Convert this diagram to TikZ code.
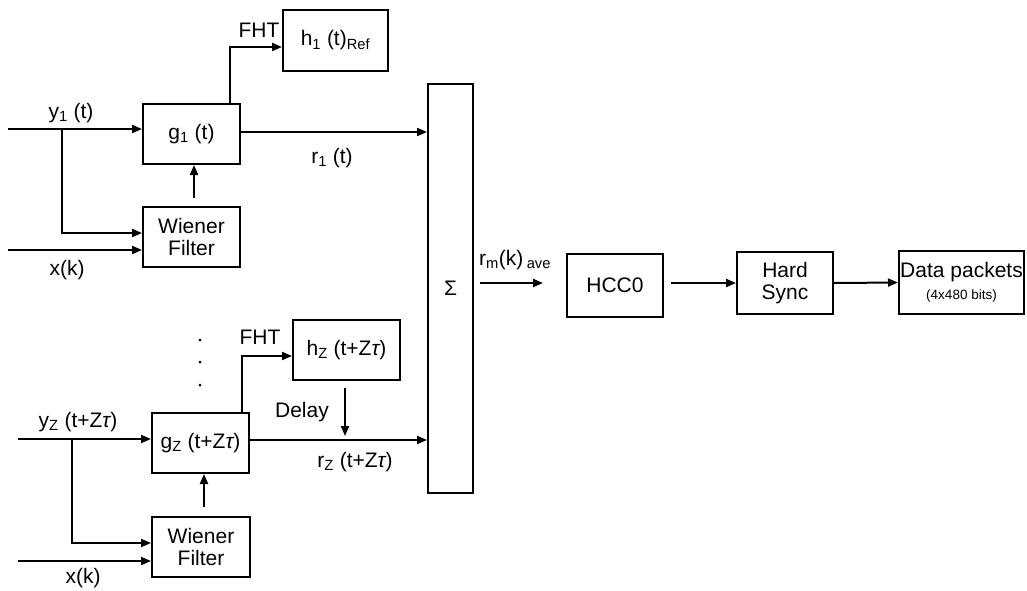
\documentclass[tikz,border=0pt]{standalone}
\usepackage{fontspec}
\setmainfont{Liberation Sans}
\usetikzlibrary{arrows.meta, positioning, calc}
\newcommand{\blkfont}{\fontsize{21}{22}\selectfont}
\newcommand{\ztau}{{\itshape τ}}

\begin{document}
\begin{tikzpicture}[x=1pt, y=-1pt,
  block/.style={draw, line width=2pt, inner sep=0pt, align=center, font=\blkfont},
  sig/.style={-{Triangle[length=10pt, width=8pt]}, line width=2pt},
  lab/.style={font=\blkfont, inner sep=0pt}]
  \useasboundingbox (0,0) rectangle (1027,590);
  % upper channel
  \node[block, minimum width=105pt, minimum height=61pt] (h1) at (335.5,40.5) {h\textsubscript{1} (t)\textsubscript{Ref}};
  \node[block, minimum width=97pt, minimum height=60pt] (g1) at (191.5,134) {g\textsubscript{1} (t)};
  \node[block, minimum width=97pt, minimum height=60pt] (wf1) at (191.5,237) {Wiener\\Filter};
  % lower channel
  \node[block, minimum width=107pt, minimum height=60pt] (hz) at (346.5,350) {h\textsubscript{Z} (t+Z\ztau)};
  \node[block, minimum width=97pt, minimum height=60pt] (gz) at (200.5,443) {g\textsubscript{Z} (t+Z\ztau)};
  \node[block, minimum width=98pt, minimum height=60pt] (wfz) at (201,547) {Wiener\\Filter};
  % combiner and receiver chain
  \node[block, minimum width=45pt, minimum height=409pt] (sum) at (450.5,288.5) {Σ};
  \node[block, minimum width=96pt, minimum height=63pt] (hcc) at (615,285.5) {HCC0};
  \node[block, minimum width=96pt, minimum height=62pt] (sync) at (785,283) {Hard\\Sync};
  \node[block, minimum width=125pt, minimum height=63pt] (pkt) at (961.5,282.5)
    {Data packets\\{\fontsize{13.5}{15}\selectfont (4x480 bits)}};

  % upper connectors
  \coordinate (in1) at (8,129);
  \coordinate (br1) at (62,129);
  \coordinate (xk1) at (8,250);
  \draw[sig] (in1) -- (in1 -| g1.west);
  \draw[sig] (br1) |- ([yshift=4pt]wf1.west);
  \draw[sig] (xk1) -- (xk1 -| wf1.west);
  \draw[sig] ([xshift=2.5pt, yshift=8pt]wf1.north) -- ([xshift=2.5pt]g1.south);
  \draw[sig] ([xshift=-11pt]g1.north east) |- ([yshift=-6.5pt]h1.west);
  \draw[sig] ([yshift=2pt]g1.east) -- ([yshift=2pt]g1.east -| sum.west);
  \node[lab] (y1lab) at (71,113) {y\textsubscript{1} (t)};
  \node[lab] (xk1lab) at (67,270) {x(k)};
  \node[lab] (fht1) at (259,30.5) {FHT};
  \node[lab] (r1lab) at (332,158) {r\textsubscript{1} (t)};

  % lower connectors
  \coordinate (inz) at (18,439);
  \coordinate (brz) at (72,439);
  \coordinate (xkz) at (18,561);
  \draw[sig] (inz) -- (inz -| gz.west);
  \draw[sig] (brz) |- ([yshift=4pt]wfz.west);
  \draw[sig] (xkz) -- (xkz -| wfz.west);
  \draw[sig] ([xshift=3pt, yshift=9pt]wfz.north) -- ([xshift=3.5pt]gz.south);
  \draw[sig] ([xshift=-8pt]gz.north east) |- ([yshift=-6pt]hz.west);
  \draw[sig] ([xshift=-1.5pt, yshift=-7pt]hz.south) -- ([xshift=-1.5pt, yshift=-55pt]hz.south);
  \draw[sig] ([yshift=3pt]gz.east) -- ([yshift=3pt]gz.east -| sum.west);
  \foreach \y in {340,362,385}
    \fill (200,\y) circle (1.5pt);
  \node[lab] (yzlab) at (78,422) {y\textsubscript{Z} (t+Z\ztau)};
  \node[lab] (xkzlab) at (83,578) {x(k)};
  \node[lab] (fhtz) at (260,337) {FHT};
  \node[lab] (dlylab) at (302,412) {Delay};
  \node[lab] (rzlab) at (355,462) {r\textsubscript{Z} (t+Z\ztau)};

  % output chain
  \coordinate (rmbeg) at (480,283);
  \coordinate (rmend) at (543,283);
  \draw[sig] (rmbeg) -- (rmend);
  \node[lab] (rmlab) at (515,260) {r\textsubscript{m}(k)\,\textsubscript{ave}};
  \draw[sig] ([xshift=7pt, yshift=2.5pt]hcc.east) -- (sync.west);
  \draw[sig] (sync.east) -- (pkt.west);
\end{tikzpicture}
\end{document}
